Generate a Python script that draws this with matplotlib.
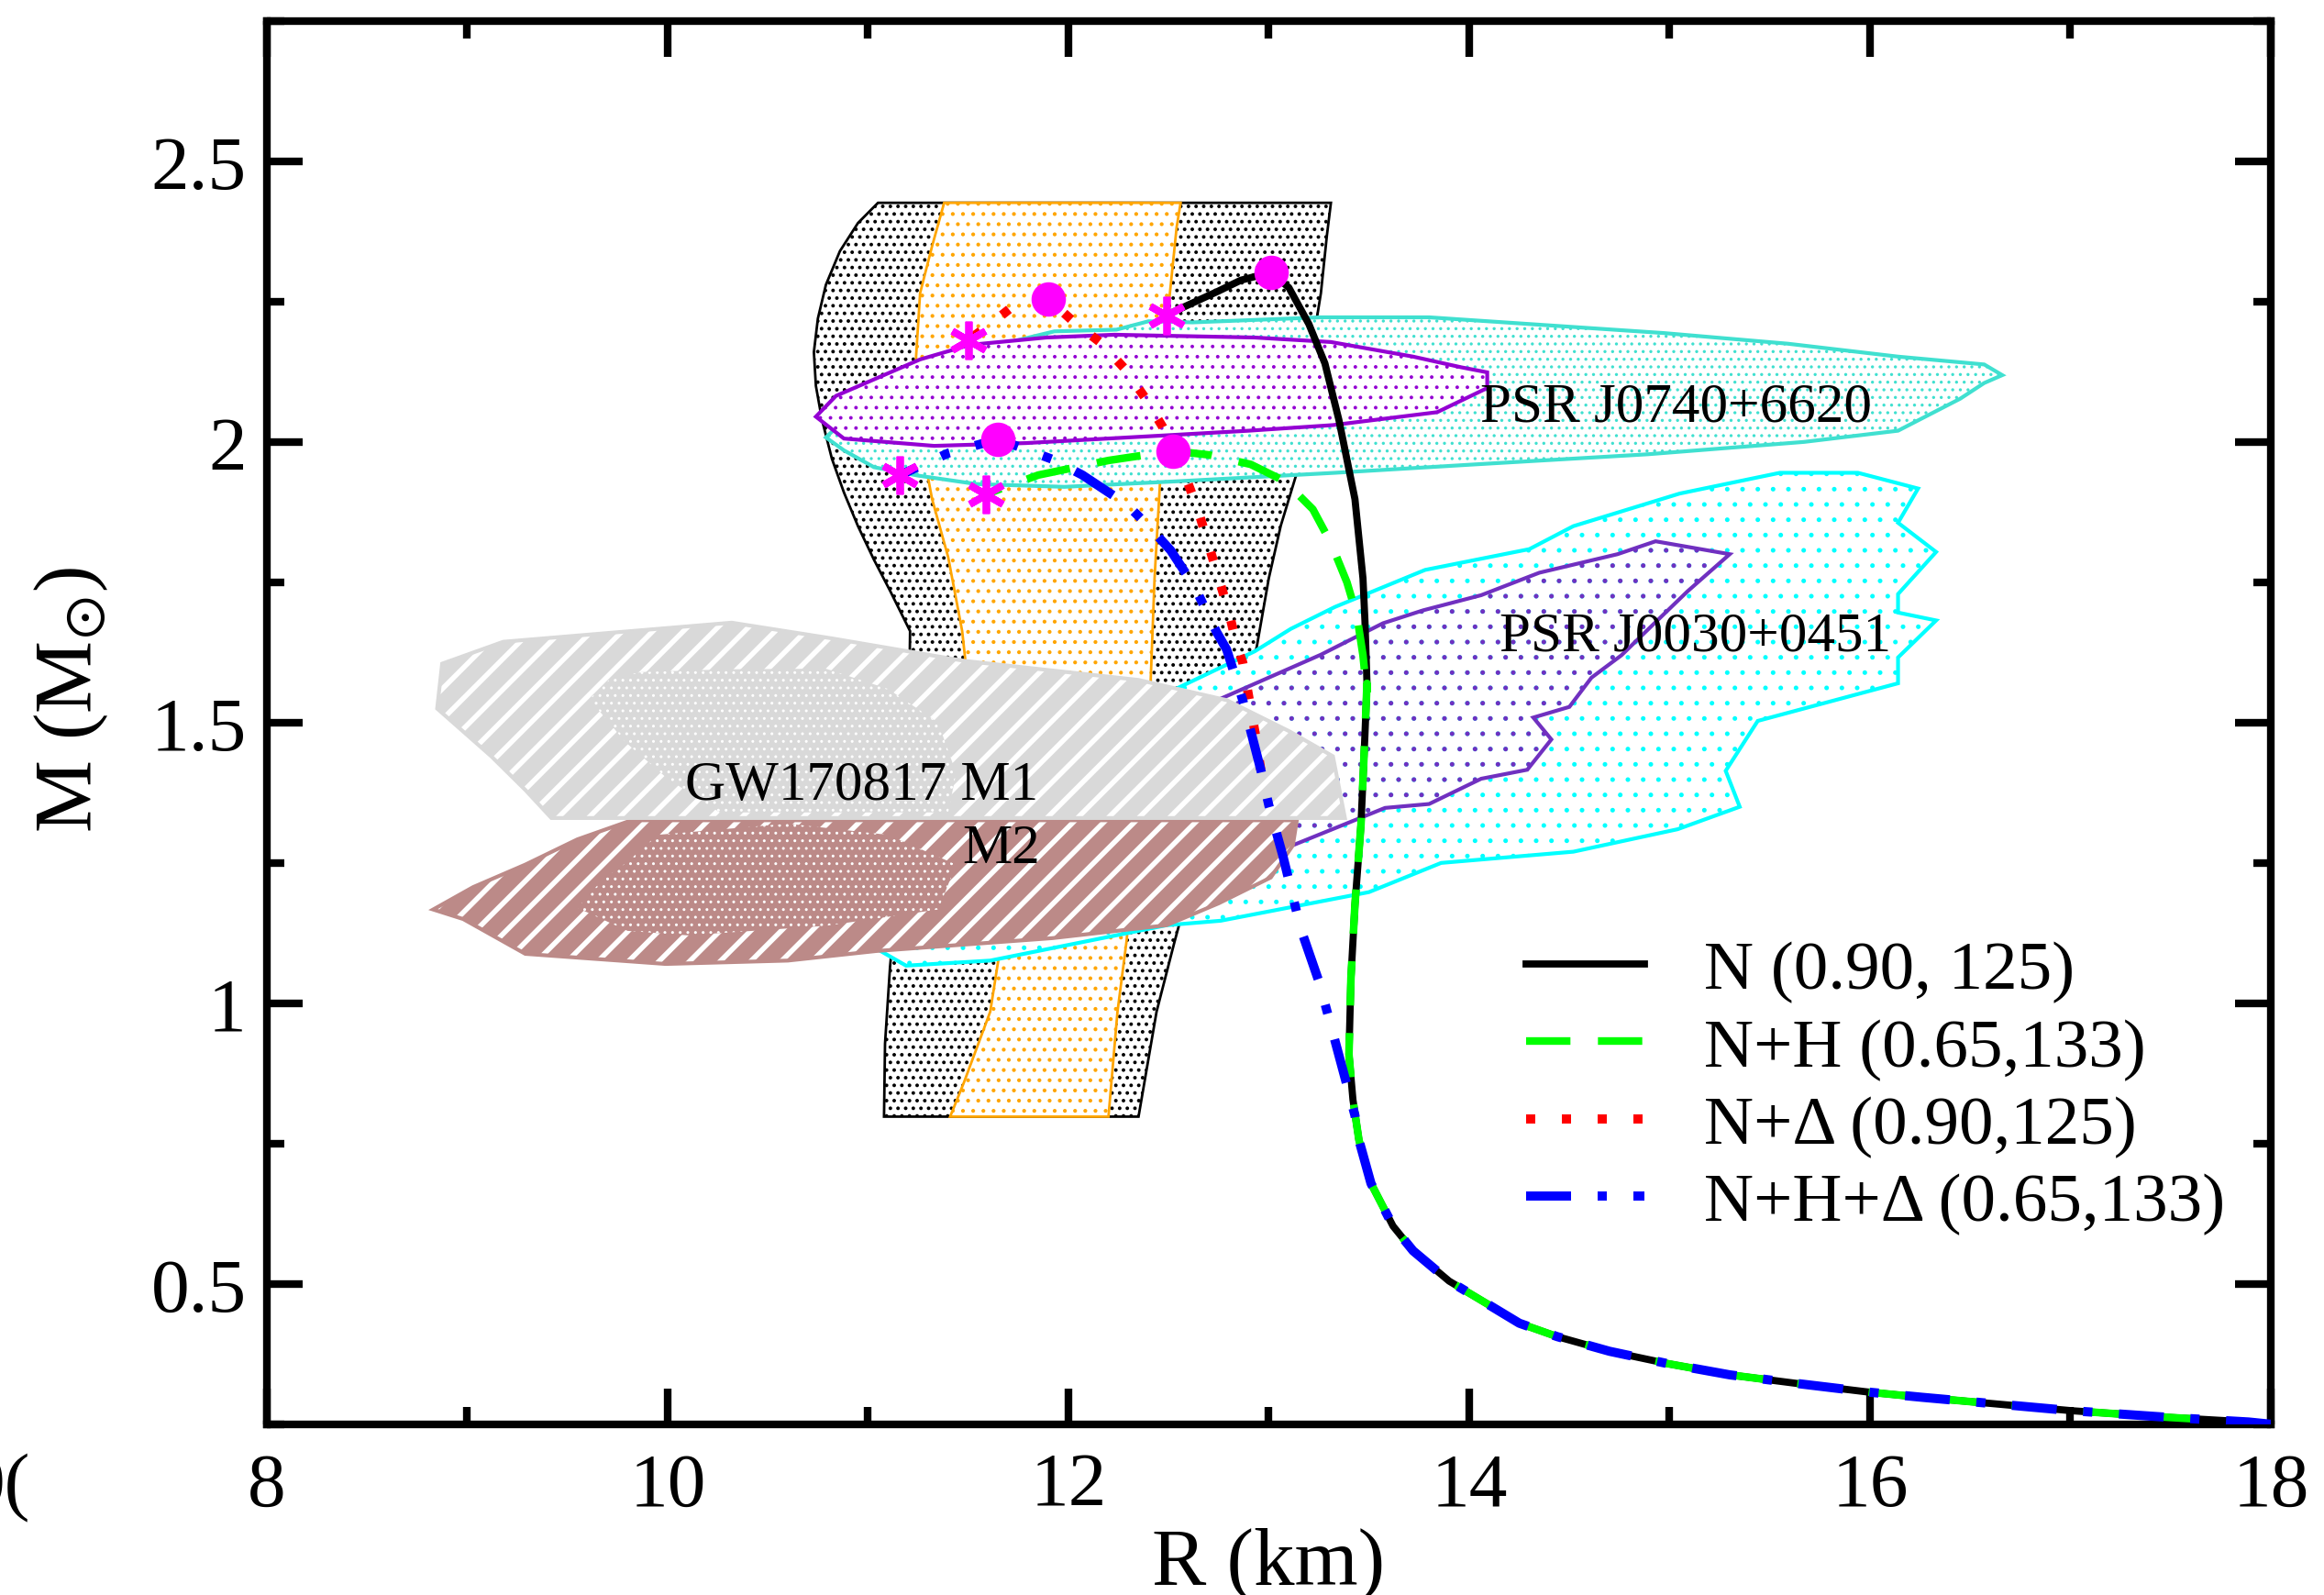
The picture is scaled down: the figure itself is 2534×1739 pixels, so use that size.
import matplotlib
matplotlib.use('Agg')
import matplotlib.pyplot as plt
from matplotlib.ticker import MultipleLocator

plt.rcParams['font.family'] = 'Liberation Serif'
plt.rcParams['mathtext.fontset'] = 'stix'

# ---- mass-radius curves (R in km, M in solar masses) ----
# common low-mass branch shared by all parametrisations
R_tail = [18.0, 17.89, 17.5, 17.01, 16.26, 16.0, 15.65, 15.3, 14.99, 14.7, 14.44, 14.25,
          14.12, 13.90, 13.72, 13.62, 13.51, 13.45]
M_tail = [0.25, 0.254, 0.262, 0.274, 0.298, 0.307, 0.322, 0.338, 0.358, 0.38, 0.406, 0.43,
          0.458, 0.505, 0.559, 0.603, 0.679, 0.756]

R_n = [13.42, 13.40, 13.41, 13.43, 13.46, 13.48, 13.49, 13.48, 13.47, 13.43, 13.35,
       13.28, 13.20, 13.10, 13.01, 12.86, 12.75, 12.61, 12.49]
M_n = [0.828, 0.909, 1.045, 1.176, 1.318, 1.48, 1.57, 1.68, 1.757, 1.898, 2.039,
       2.14, 2.21, 2.275, 2.302, 2.288, 2.269, 2.246, 2.226]

R_nh = [13.49, 13.47, 13.44, 13.39, 13.31, 13.22, 13.08, 12.91, 12.70, 12.52, 12.20,
        11.85, 11.59]
M_nh = [1.55, 1.62, 1.69, 1.75, 1.82, 1.88, 1.93, 1.96, 1.977, 1.984, 1.967,
        1.941, 1.907]

R_nd = [12.96, 12.93, 12.87, 12.84, 12.80, 12.75, 12.70, 12.65, 12.61, 12.55, 12.47,
        12.38, 12.28, 12.16, 12.02, 11.90, 11.71, 11.65, 11.50]
M_nd = [1.416, 1.485, 1.607, 1.638, 1.698, 1.757, 1.816, 1.875, 1.914, 1.97, 2.027,
        2.08, 2.131, 2.177, 2.216, 2.255, 2.238, 2.221, 2.181]

R_nhd = [13.43, 13.39, 13.32, 13.25, 13.16, 13.07, 13.00, 12.96, 12.87, 12.79, 12.74,
         12.63, 12.51, 12.40, 12.29, 12.07, 11.92, 11.65, 11.40, 11.16]
M_nhd = [0.80, 0.854, 0.947, 1.039, 1.132, 1.263, 1.353, 1.416, 1.54, 1.63, 1.661,
         1.742, 1.807, 1.85, 1.889, 1.941, 1.969, 2.005, 1.98, 1.941]

# maximum-mass configurations and onset points
max_R = [13.01, 12.52, 11.90, 11.65]
max_M = [2.302, 1.984, 2.255, 2.005]
ast_R = [12.49, 11.59, 11.50, 11.16]
ast_M = [2.226, 1.907, 2.181, 1.941]

labels = ['N (0.90, 125)', 'N+H (0.65,133)', 'N+Δ (0.90,125)', 'N+H+Δ (0.65,133)']

# ---- observational constraints ----
band_R = [11.05, 10.95, 10.86, 10.79, 10.75, 10.73, 10.74, 10.77, 10.82, 10.88, 10.95,
          11.03, 11.11, 11.21, 11.2, 11.11, 11.085, 11.08, 12.35, 12.44, 12.53, 12.75,
          12.94, 13.0, 13.06, 13.14, 13.2, 13.26, 13.29, 13.31]
band_M = [2.426, 2.39, 2.34, 2.28, 2.22, 2.16, 2.10, 2.04, 1.97, 1.91, 1.85,
          1.79, 1.735, 1.663, 1.4, 1.065, 0.928, 0.798, 0.798, 0.985, 1.11, 1.4,
          1.635, 1.757, 1.851, 1.945, 2.133, 2.265, 2.368, 2.426]

inner_R = [11.38, 11.32, 11.26, 11.24, 11.26, 11.32, 11.40, 11.47, 11.55, 11.65, 11.61,
           11.48, 11.41, 12.2, 12.245, 12.29, 12.41, 12.43, 12.46, 12.49, 12.51, 12.54,
           12.56]
inner_M = [2.426, 2.349, 2.265, 2.152, 2.011, 1.898, 1.795, 1.663, 1.4, 1.076, 0.985,
           0.86, 0.798, 0.798, 0.985, 1.11, 1.569, 1.757, 1.945, 2.208, 2.277, 2.382,
           2.426]

j0030_R = [10.98, 12.53, 12.93, 13.11, 13.33, 13.78, 14.30, 14.52, 15.05, 15.55, 15.94,
           16.24, 16.14, 16.33, 16.14, 16.14, 16.33, 16.14, 16.14, 15.44, 15.28, 15.35,
           15.04, 14.52, 13.86, 13.50, 12.76, 12.49, 11.61, 11.19]
j0030_M = [1.11, 1.559, 1.627, 1.667, 1.706, 1.772, 1.809, 1.85, 1.908, 1.945, 1.945,
           1.917, 1.856, 1.804, 1.729, 1.696, 1.682, 1.616, 1.57, 1.503, 1.414, 1.35,
           1.31, 1.27, 1.25, 1.198, 1.147, 1.139, 1.076, 1.067]

j0030in_R = [12.55, 12.9, 13.11, 13.58, 13.80, 14.06, 14.29, 14.41, 14.32, 14.50, 14.61,
             14.76, 14.91, 15.09, 15.30, 14.93, 14.74, 14.35, 14.06, 13.77, 13.57, 13.26,
             12.75]
j0030in_M = [1.50, 1.24, 1.28, 1.348, 1.355, 1.40, 1.416, 1.47, 1.509, 1.528, 1.58,
             1.62, 1.672, 1.734, 1.80, 1.823, 1.80, 1.767, 1.727, 1.70, 1.677, 1.621,
             1.541]

j0740_R = [10.79, 11.0, 11.5, 11.93, 12.24, 12.40, 12.62, 13.26, 13.8, 14.97, 15.59,
           16.14, 16.57, 16.66, 16.57, 16.45, 16.14, 15.67, 14.89, 14.03, 13.33, 12.55,
           11.98, 11.54, 11.25, 11.03, 10.88]
j0740_M = [2.008, 2.08, 2.16, 2.197, 2.20, 2.215, 2.213, 2.222, 2.222, 2.194, 2.175,
           2.152, 2.138, 2.119, 2.105, 2.077, 2.02, 2.0, 1.978, 1.96, 1.945, 1.93,
           1.92, 1.925, 1.94, 1.955, 1.985]

j0740in_R = [10.74, 10.84, 11.26, 11.51, 11.89, 12.23, 12.93, 13.31, 13.72, 13.96, 14.09,
             14.09, 13.84, 13.32, 12.9, 12.5, 11.79, 11.33, 10.88]
j0740in_M = [2.045, 2.082, 2.147, 2.173, 2.186, 2.191, 2.186, 2.178, 2.152, 2.133, 2.124,
             2.096, 2.053, 2.03, 2.02, 2.012, 1.998, 1.993, 2.006]

m1_R = [8.85, 8.875, 9.18, 10.32, 10.82, 11.48, 12.35, 12.79, 13.1, 13.32, 13.38, 9.42,
        9.29, 9.12]
m1_M = [1.525, 1.605, 1.644, 1.678, 1.65, 1.61, 1.576, 1.54, 1.485, 1.44, 1.33, 1.33,
        1.38, 1.44]
m1in_R = [9.72, 9.87, 10.3, 10.79, 11.1, 11.35, 11.44, 11.4, 10.26, 10.0, 9.79, 9.61]
m1in_M = [1.58, 1.59, 1.595, 1.596, 1.56, 1.50, 1.41, 1.34, 1.34, 1.40, 1.465, 1.542]

m2_R = [8.83, 9.03, 9.29, 9.55, 9.82, 13.14, 13.12, 13.01, 12.75, 12.49, 11.92, 11.04,
        10.6, 9.99, 9.29, 8.98]
m2_M = [1.167, 1.207, 1.247, 1.292, 1.326, 1.326, 1.281, 1.224, 1.178, 1.139, 1.116,
        1.093, 1.076, 1.070, 1.088, 1.15]
m2in_R = [9.55, 9.675, 9.80, 9.95, 10.6, 11.1, 11.44, 11.35, 10.79, 10.1, 9.8]
m2in_M = [1.17, 1.22, 1.252, 1.30, 1.32, 1.30, 1.247, 1.167, 1.138, 1.121, 1.129]

xticks = [8, 10, 12, 14, 16, 18]
yticks = [0.5, 1, 1.5, 2, 2.5]
ytick_labels = ['0.5', '1', '1.5', '2', '2.5']


def region(ax, R, M, face, hcol, hatch, hlw, edge, elw, z):
    ax.fill(R, M, facecolor=face, edgecolor='none', linewidth=0, zorder=z)
    with plt.rc_context({'hatch.linewidth': hlw}):
        p = ax.fill(R, M, facecolor='none', edgecolor=hcol, hatch=hatch,
                    linewidth=0, zorder=z)[0]
    if hasattr(p, 'set_hatch_linewidth'):
        p.set_hatch_linewidth(hlw)
    if edge is not None:
        ax.fill(R, M, facecolor='none', edgecolor=edge, linewidth=elw, zorder=z)


fig = plt.figure(figsize=(12.67, 8.70), dpi=200)
ax = fig.add_axes([0.1148, 0.107, 0.8623, 0.8793])

region(ax, band_R, band_M, 'white', 'black', '....', 0.8, 'black', 1.0, 1)
region(ax, inner_R, inner_M, 'white', '#ffa500', '...', 0.7, '#ffa500', 1.0, 2)
region(ax, j0030_R, j0030_M, 'white', '#00ffff', '..', 0.6, '#00ffff', 1.5, 3)
region(ax, j0030in_R, j0030in_M, 'none', '#7030c0', '..', 0.6, '#7030c0', 1.5, 4)
region(ax, j0740_R, j0740_M, 'white', '#40e0d0', '....', 0.6, '#40e0d0', 1.5, 5)
region(ax, j0740in_R, j0740in_M, 'white', '#9400d3', '...', 0.6, '#9400d3', 1.5, 6)
region(ax, m2_R, m2_M, '#bc8a88', 'white', '//', 2.0, '#bc8a88', 1.5, 7)
region(ax, m2in_R, m2in_M, '#bc8a88', 'white', '....', 0.5, None, 0, 7)
region(ax, m1_R, m1_M, '#d9d9d9', 'white', '//', 2.0, '#d9d9d9', 1.5, 8)
region(ax, m1in_R, m1in_M, '#d9d9d9', 'white', '....', 0.5, None, 0, 8)

ax.plot(R_tail + R_n, M_tail + M_n, color='black', lw=2.8, label=labels[0], zorder=10)
ax.plot(R_tail + R_n[:7] + R_nh, M_tail + M_n[:7] + M_nh, color='#00ff00', lw=3.0,
        dashes=(5.8, 3.6), label=labels[1], zorder=11)
ax.plot(R_nd, M_nd, color='red', lw=3.6, dashes=(1.0, 2.9), label=labels[2], zorder=12)
ax.plot(R_tail + R_nhd, M_tail + M_nhd, color='blue', lw=3.6,
        dashes=(4.9, 2.9, 1.0, 2.9), label=labels[3], zorder=13)

ax.plot(max_R, max_M, 'o', color='#ff00ff', ms=12.5, mec='#ff00ff', zorder=20)
ax.plot(ast_R, ast_M, ls='none', marker=(6, 2, 0), ms=15, mew=2.8, color='#ff00ff',
        zorder=20)

ax.text(15.03, 2.063, 'PSR J0740+6620', fontsize=22, ha='center', va='center', zorder=25)
ax.text(15.13, 1.654, 'PSR J0030+0451', fontsize=22, ha='center', va='center', zorder=25)
ax.text(10.97, 1.389, 'GW170817 M1', fontsize=22, ha='center', va='center', zorder=25)
ax.text(11.47, 1.275, 'M2', fontsize=22, ha='left', va='center', zorder=25)

ax.set_xlim(8, 18)
ax.set_ylim(0.25, 2.75)
ax.set_xticks(xticks)
ax.set_yticks(yticks)
ax.set_yticklabels(ytick_labels)
ax.xaxis.set_minor_locator(MultipleLocator(1))
ax.yaxis.set_minor_locator(MultipleLocator(0.25))
ax.tick_params(which='both', direction='in', top=True, right=True, width=3)
ax.tick_params(which='major', length=14, labelsize=30)
ax.tick_params(axis='x', which='major', pad=11)
ax.tick_params(axis='y', which='major', pad=8)
ax.tick_params(which='minor', length=7)
for s in ax.spines.values():
    s.set_linewidth(3)

ax.set_xlabel('R (km)', fontsize=32, labelpad=2)
ax.set_ylabel(r'M (M$_{\odot}$)', fontsize=32)
ax.yaxis.set_label_coords(-0.078, 0.517)

ax.annotate('0(', xy=(6.82, 0), xycoords=('data', 'axes fraction'), xytext=(0, -11),
            textcoords='offset points', ha='right', va='top', fontsize=30,
            annotation_clip=False)

ax.legend(loc='upper left', bbox_to_anchor=(0.6286, 0.345), frameon=False,
          fontsize=27, handlelength=1.72, handletextpad=0.86, labelspacing=0.21,
          borderpad=0, borderaxespad=0)

fig.savefig('out.png', dpi=200)
